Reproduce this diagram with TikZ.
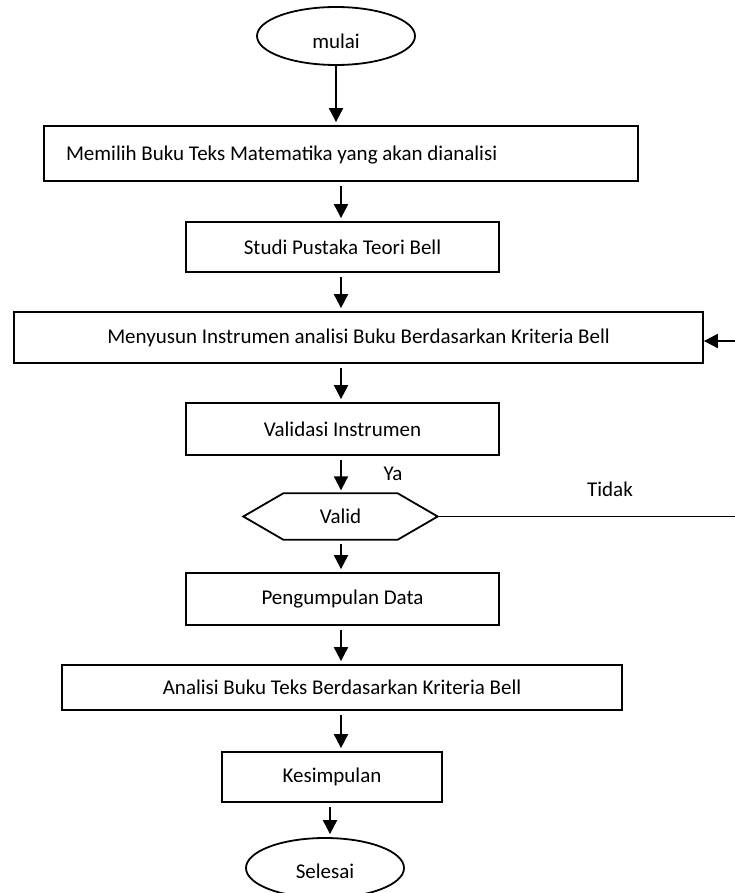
\documentclass[tikz,border=0pt]{standalone}
\usepackage{fontspec}
\setmainfont{Carlito}
\usetikzlibrary{arrows.meta,calc,shapes.geometric}
\newcommand{\lowr}[2]{\raisebox{-#1}[\height][\depth]{#2}}
\begin{document}
\begin{tikzpicture}[x=1pt,y=-1pt,
  pbox/.style={draw, line width=1.8pt, inner sep=0pt, align=center, font=\fontsize{21}{25}\selectfont},
  term/.style={draw, ellipse, line width=1.8pt, inner sep=0pt, font=\fontsize{21}{25}\selectfont},
  arr/.style={line width=2pt, -{Triangle[length=14pt,width=14pt]}, shorten <=4pt, shorten >=3pt},
  lbl/.style={font=\fontsize{21}{25}\selectfont, inner sep=0pt}
]
\useasboundingbox (0,0) rectangle (735,893);
\clip (0,0) rectangle (735,893);

\node[term, minimum width=158pt, minimum height=58pt] (start) at (336,36) {\lowr{5pt}{mulai}};
\node[pbox, minimum height=55pt, text width=550pt, inner xsep=22pt, align=flush left] (b1) at (341,153.5) {\lowr{2pt}{Memilih Buku Teks Matematika yang akan dianalisi}};
\node[pbox, minimum width=313pt, minimum height=50pt] (b2) at (342.5,247) {Studi Pustaka Teori Bell};
\node[pbox, minimum width=689pt, minimum height=51pt] (b3) at (358.5,337.5) {Menyusun Instrumen analisi Buku Berdasarkan Kriteria Bell};
\node[pbox, minimum width=313pt, minimum height=52pt] (b4) at (342.5,429) {Validasi Instrumen};
\node[inner sep=0pt, minimum width=194pt, minimum height=46pt, font=\fontsize{21}{25}\selectfont] (valid) at (340.5,516.5) {Valid};
\draw[line width=1.8pt, line join=miter] (valid.west) -- ($(valid.north west)+(40,0)$) -- ($(valid.north east)+(-40,0)$) -- (valid.east) -- ($(valid.south east)+(-40,0)$) -- ($(valid.south west)+(40,0)$) -- cycle;
\node[pbox, minimum width=313pt, minimum height=52pt] (b5) at (342.5,599) {Pengumpulan Data};
\node[pbox, minimum width=560pt, minimum height=45pt] (b6) at (342,687.5) {Analisi Buku Teks Berdasarkan Kriteria Bell};
\node[pbox, minimum width=220pt, minimum height=50pt] (b7) at (332,777) {Kesimpulan};
\node[term, minimum width=158pt, minimum height=60pt] (end) at (325,868) {\lowr{3pt}{Selesai}};

\coordinate (xa) at (341,0);
\coordinate (xe) at (330,0);

\draw[arr, shorten <=0pt] (start) -- (start |- b1.north);
\draw[arr] (b1.south -| xa) -- (b2.north -| xa);
\draw[arr] (b2.south -| xa) -- (b3.north -| xa);
\draw[arr] (b3.south -| xa) -- (b4.north -| xa);
\draw[arr] (b4.south -| xa) -- (valid.north -| xa);
\draw[arr] (valid.south -| xa) -- (b5.north -| xa);
\draw[arr] (b5.south -| xa) -- (b6.north -| xa);
\draw[arr] (b6.south -| xa) -- (b7.north -| xa);
\draw[arr] (b7.south -| xe) -- (end.north -| xe);

\node[lbl] (ya) at (393,474) {Ya};
\node[lbl] (tidak) at (610,489) {Tidak};

\coordinate (r1) at (735,341);
\coordinate (r2) at (735,516.5);
\draw[line width=2pt, -{Triangle[length=14pt,width=14pt]}] (r1) -- (b3.east |- r1);
\draw[line width=1pt] (valid.east) -- (r2);
\end{tikzpicture}
\end{document}
